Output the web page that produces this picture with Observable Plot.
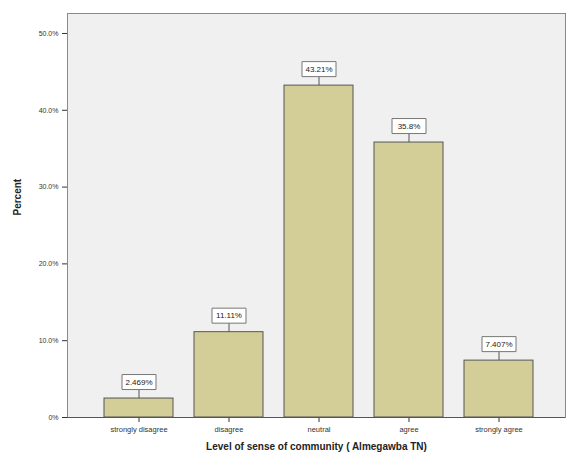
<!DOCTYPE html>
<html><head><meta charset="utf-8">
<script src="https://cdn.jsdelivr.net/npm/d3@7"></script>
<script src="https://cdn.jsdelivr.net/npm/@observablehq/plot@0.6"></script>
<style>body{margin:0;background:#fff;}</style>
</head><body><div id="chart"></div>
<script>
const categories = ["strongly disagree","disagree","neutral","agree","strongly agree"];
const percents = [2.469, 11.11, 43.21, 35.8, 7.407];
const labels = ["2.469%","11.11%","43.21%","35.8%","7.407%"];
const yTicks = [0,10,20,30,40,50];
const yTickLabels = ["0%","10.0%","20.0%","30.0%","40.0%","50.0%"];
const xTitle = "Level of sense of community ( Almegawba TN)";
const yTitle = "Percent";

const data = categories.map((c,i)=>({category:c, percent:percents[i], label:labels[i]}));
const boxSymbol = {draw(ctx){ ctx.rect(-17,-7.5,34,15); }};

const chart = Plot.plot({
  width:569, height:459, marginLeft:67, marginRight:4, marginTop:13, marginBottom:42,
  style:{fontFamily:"'Liberation Sans', Arial, sans-serif", background:"#fff", color:"#333"},
  x:{domain:categories, paddingInner:0.233, paddingOuter:0.383, align:0.53, label:null},
  y:{domain:[0,52.6], label:null},
  marks:[
    Plot.frame({fill:"#f0f0f0", stroke:"#8a8a8a"}),
    Plot.barY(data,{x:"category", y:"percent", fill:"#d3ce97", stroke:"#555", strokeWidth:1}),
    Plot.ruleX(data,{x:"category", y1:"percent", y2:"percent", insetBottom:9, stroke:"#555"}),
    Plot.dot(data,{x:"category", y:"percent", dy:-16.5, symbol:boxSymbol, r:5, fill:"#fff", stroke:"#777", strokeWidth:1}),
    Plot.text(data,{x:"category", y:"percent", dy:-16.5, text:"label", fontSize:8, fill:"#222"}),
    Plot.axisY({ticks:yTicks, tickFormat:(d)=>yTickLabels[yTicks.indexOf(d)], tickSize:5, fontSize:7, label:null}),
    Plot.axisX({tickSize:5, fontSize:7.5, label:null}),
    Plot.ruleY([0], {stroke:"#555"}),
    Plot.text([yTitle], {frameAnchor:"left", dx:-50, rotate:-90, fontWeight:"bold", fontSize:10, fill:"#222"}),
    Plot.text([xTitle], {frameAnchor:"bottom", dy:32, fontWeight:"bold", fontSize:10, fill:"#222"})
  ]
});
document.getElementById("chart").appendChild(chart);
</script>
</body></html>
